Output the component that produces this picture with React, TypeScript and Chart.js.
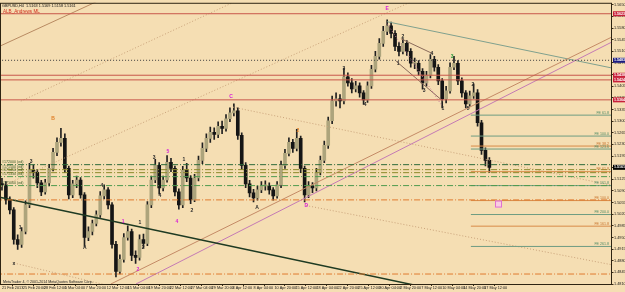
import React, { useEffect, useRef } from "react";
import { Chart, registerables } from "chart.js";

Chart.register(...registerables);

// ---------- header texts ----------
const symbolTitle = "GBPUSD,H4";
const titleValues = ["1.5163", "1.5169", "1.5158", "1.5161"];
const indicatorName = "ALB_Andrews ML";
const copyright = "MetaTrader 4, © 2001-2014 MetaQuotes Software Corp.";

// ---------- candles (each candle = 3 H4 bars) ----------
const opens = [1.5112,1.5108,1.5063,1.5033,1.4944,1.4929,1.4968,1.5048,1.5152,1.5146,
1.5114,1.5087,1.5114,1.5158,1.5206,1.5236,1.5248,1.5158,1.5078,1.5111,
1.5123,1.5078,1.4950,1.4968,1.4992,1.5018,1.5075,1.5093,1.5048,1.4929,
1.4848,1.4884,1.4950,1.4968,1.4896,1.4890,1.4944,1.4932,1.5048,1.5123,
1.5167,1.5099,1.5123,1.5176,1.5158,1.5087,1.5048,1.5152,1.5129,1.5063,
1.5129,1.5182,1.5218,1.5248,1.5266,1.5260,1.5284,1.5278,1.5307,1.5325,
1.5331,1.5257,1.5167,1.5111,1.5084,1.5069,1.5093,1.5105,1.5105,1.5093,
1.5075,1.5108,1.5167,1.5203,1.5236,1.5218,1.5248,1.5158,1.5078,1.5105,
1.5099,1.5146,1.5182,1.5227,1.5301,1.5361,1.5367,1.5361,1.5433,1.5415,
1.5397,1.5406,1.5385,1.5364,1.5406,1.5456,1.5495,1.5534,1.5570,1.5587,
1.5564,1.5525,1.5510,1.5534,1.5510,1.5474,1.5474,1.5450,1.5415,1.5438,
1.5486,1.5462,1.5421,1.5367,1.5391,1.5462,1.5474,1.5421,1.5385,1.5352,
1.5376,1.5385,1.5295,1.5212,1.5182];

const highs = [1.5128,1.5118,1.5072,1.5040,1.4958,1.4980,1.5060,1.5173,1.5168,1.5155,
1.5122,1.5125,1.5170,1.5218,1.5250,1.5278,1.5262,1.5165,1.5122,1.5135,
1.5130,1.5085,1.4982,1.5002,1.5030,1.5088,1.5108,1.5100,1.5055,1.4938,
1.4898,1.4962,1.4985,1.4975,1.4910,1.4958,1.4960,1.5058,1.5135,1.5185,
1.5175,1.5135,1.5196,1.5188,1.5165,1.5096,1.5164,1.5173,1.5136,1.5140,
1.5195,1.5235,1.5262,1.5282,1.5280,1.5298,1.5300,1.5320,1.5340,1.5352,
1.5340,1.5265,1.5175,1.5122,1.5095,1.5105,1.5118,1.5120,1.5114,1.5100,
1.5118,1.5180,1.5215,1.5250,1.5245,1.5275,1.5255,1.5165,1.5118,1.5115,
1.5158,1.5195,1.5240,1.5312,1.5375,1.5385,1.5380,1.5459,1.5445,1.5428,
1.5420,1.5415,1.5392,1.5418,1.5468,1.5510,1.5548,1.5585,1.5605,1.5598,
1.5572,1.5536,1.5548,1.5542,1.5518,1.5490,1.5482,1.5458,1.5450,1.5500,
1.5495,1.5470,1.5428,1.5405,1.5475,1.5495,1.5482,1.5430,1.5392,1.5390,
1.5412,1.5395,1.5302,1.5220,1.5190];

const lows = [1.5092,1.5050,1.5021,1.4930,1.4914,1.4920,1.4961,1.5040,1.5128,1.5100,
1.5076,1.5080,1.5105,1.5150,1.5196,1.5225,1.5145,1.5066,1.5070,1.5100,
1.5068,1.4923,1.4940,1.4958,1.4985,1.5010,1.5066,1.5036,1.4918,1.4831,
1.4840,1.4876,1.4942,1.4880,1.4872,1.4882,1.4918,1.4925,1.5040,1.5115,
1.5080,1.5090,1.5116,1.5148,1.5075,1.5035,1.5040,1.5118,1.5052,1.5058,
1.5120,1.5172,1.5208,1.5236,1.5245,1.5250,1.5262,1.5270,1.5298,1.5316,
1.5245,1.5155,1.5100,1.5072,1.5057,1.5062,1.5085,1.5092,1.5080,1.5062,
1.5068,1.5100,1.5158,1.5195,1.5206,1.5210,1.5145,1.5057,1.5070,1.5085,
1.5090,1.5138,1.5175,1.5218,1.5292,1.5345,1.5340,1.5352,1.5405,1.5385,
1.5388,1.5372,1.5350,1.5356,1.5398,1.5448,1.5486,1.5525,1.5560,1.5550,
1.5512,1.5496,1.5502,1.5498,1.5462,1.5458,1.5438,1.5396,1.5405,1.5430,
1.5450,1.5410,1.5340,1.5355,1.5384,1.5455,1.5410,1.5372,1.5340,1.5345,
1.5368,1.5285,1.5200,1.5165,1.5146];

const closes = [1.5108,1.5063,1.5033,1.4944,1.4929,1.4968,1.5048,1.5152,1.5146,1.5114,
1.5087,1.5114,1.5158,1.5206,1.5236,1.5248,1.5158,1.5078,1.5111,1.5123,
1.5078,1.4950,1.4968,1.4992,1.5018,1.5075,1.5093,1.5048,1.4929,1.4848,
1.4884,1.4950,1.4968,1.4896,1.4890,1.4944,1.4932,1.5048,1.5123,1.5167,
1.5099,1.5123,1.5176,1.5158,1.5087,1.5048,1.5152,1.5129,1.5063,1.5129,
1.5182,1.5218,1.5248,1.5266,1.5260,1.5284,1.5278,1.5307,1.5325,1.5331,
1.5257,1.5167,1.5111,1.5084,1.5069,1.5093,1.5105,1.5105,1.5093,1.5075,
1.5108,1.5167,1.5203,1.5236,1.5218,1.5248,1.5158,1.5078,1.5105,1.5099,
1.5146,1.5182,1.5227,1.5301,1.5361,1.5367,1.5361,1.5433,1.5415,1.5397,
1.5406,1.5385,1.5364,1.5406,1.5456,1.5495,1.5534,1.5570,1.5587,1.5564,
1.5525,1.5510,1.5534,1.5510,1.5474,1.5474,1.5450,1.5415,1.5438,1.5486,
1.5462,1.5421,1.5367,1.5391,1.5462,1.5474,1.5421,1.5385,1.5352,1.5376,
1.5385,1.5295,1.5212,1.5182,1.5161];

// ---------- axes ----------
const timeLabels = ["21 Feb 2013","25 Feb 20:00","28 Feb 12:00","5 Mar 04:00","7 Mar 20:00","12 Mar 12:00",
"15 Mar 04:00","19 Mar 20:00","22 Mar 12:00","27 Mar 04:00","29 Mar 20:00","3 Apr 12:00",
"8 Apr 04:00","10 Apr 20:00","15 Apr 12:00","18 Apr 04:00","22 Apr 20:00","25 Apr 12:00",
"30 Apr 04:00","2 May 20:00","7 May 12:00","10 May 04:00","14 May 20:00","17 May 12:00"];
const candlesPerLabel = 16 / 3; // 16 H4 bars between time labels
const priceTicks = [1.5650,1.5615,1.5580,1.5545,1.5510,1.5475,1.5440,1.5405,1.5370,1.5335,
1.5300,1.5265,1.5230,1.5195,1.5160,1.5125,1.5090,1.5055,1.5020,1.4985,1.4950,1.4915,
1.4880,1.4845,1.4810];
const priceMin = 1.4810;
const priceMax = 1.5656;
const timeMin = -0.5;
const timeMax = 155.2;

// ---------- horizontal levels ----------
const redLevels = [1.5623, 1.5438, 1.5424, 1.5364];
const dottedLevel = 1.5483;
const dashDotLevels = [1.5169, 1.5154, 1.5145, 1.5133, 1.5106];
const dashDotNames = ["#172000 (ed)", "#171500 (ed)", "#171450 (ed)", "#171330 (ed)", "#171060 (ed)"];
const orangeLevels = [1.5063, 1.4840];
const feGreenLevels = [1.5318, 1.5255, 1.5216, 1.5106, 1.5019, 1.4923];
const feGreenNames = ["FE 61.8", "FE 100.0", "FE 123.6", "FE 161.8", "FE 200.0", "FE 261.8"];
const feOrangeLevels = [1.5225, 1.5148, 1.5061, 1.4984];
const feOrangeNames = ["FE 38.2", "FE 61.8", "FE 100.0", "FE 161.8"];
const feStart = 119.3;

// ---------- trend lines [time, price, time, price] ----------
const trendBrown = [-0.25, 1.5527, 24.0, 1.5659];
const trendDotted1 = [4.8, 1.5360, 58.8, 1.5657];
const trendDotted2 = [-0.25, 1.5103, 104.1, 1.5659];
const trendDarkGreen = [-0.25, 1.5070, 104.8, 1.4807];
const channelTan = [27.7, 1.4810, 155.5, 1.5555];
const channelPink = [34.1, 1.4810, 155.5, 1.5540];
const fromC = [58.8, 1.5342, 155.5, 1.5106];
const fromD = [77.4, 1.5046, 155.5, 1.4867];
const fromX = [3.05, 1.4873, 26.5, 1.4807];
const fromE = [98.0, 1.5599, 155.5, 1.5459];
const waveA = [98.0, 1.5593, 112.0, 1.5345];
const waveB = [101.5, 1.5548, 109.4, 1.5504];
const waveC = [100.3, 1.5480, 112.2, 1.5360];

// ---------- wave labels [time, price, text, kind] ----------
const waveLabels: [number, number, string, string][] = [
  [13.0, 1.5306, "B", "o"], [98.0, 1.5638, "E", "m"], [58.3, 1.5375, "C", "m"], [77.4, 1.5046, "D", "m"],
  [3.05, 1.4870, "x", "k"], [7.4, 1.5178, "3", "k"], [4.6, 1.4980, "1", "k"], [21.1, 1.4920, "A", "k"],
  [25.4, 1.5106, "4", "k"], [30.8, 1.4998, "1", "m"], [34.6, 1.4852, "2", "m"], [35.1, 1.4995, "1", "k"],
  [35.9, 1.4920, "2", "k"], [38.7, 1.5190, "3", "k"], [40.2, 1.5076, "4", "k"], [42.2, 1.5208, "5", "m"],
  [44.5, 1.4998, "4", "m"], [46.3, 1.5184, "1", "k"], [48.3, 1.5031, "2", "k"], [64.9, 1.5040, "A", "k"],
  [75.3, 1.5270, "2", "o"], [87.0, 1.5459, "3", "k"], [92.4, 1.5351, "4", "k"], [102.0, 1.5554, "2", "k"],
  [100.8, 1.5473, "1", "k"], [107.4, 1.5393, "3", "k"], [109.4, 1.5503, "4", "k"], [112.2, 1.5339, "1", "k"],
  [114.5, 1.5495, "3", "g"], [118.6, 1.5339, "5", "k"], [119.8, 1.5411, "2", "k"],
];
const boxPoint = [126.2, 1.5052];

const labelColors: Record<string, string> = { o: "#E0802A", m: "#D81FD8", k: "#2A2A2A", g: "#2E9A3E" };

export default function App() {
  const ref = useRef<HTMLCanvasElement>(null);

  useEffect(() => {
    document.body.style.margin = "0";
    const canvas = ref.current;
    if (!canvas) return;

    const bull = "#ADA47C";
    const bear = "#151515";
    const wick = "#202020";

    const seg = (a: number[], color: string, width: number, dash: number[] = []) => ({
      type: "line",
      data: [{ x: a[0], y: a[1] }, { x: a[2], y: a[3] }],
      borderColor: color,
      borderWidth: width,
      borderDash: dash,
      pointRadius: 0,
      pointHoverRadius: 0,
      fill: false,
      tension: 0,
      order: 1,
    });
    const hline = (p: number, color: string, width: number, dash: number[] = [], from = timeMin - 1) =>
      seg([from, p, timeMax + 1, p], color, width, dash);

    const datasets: any[] = [
      {
        type: "bar",
        data: lows.map((l, i) => ({ x: i, y: [l, highs[i]] })),
        backgroundColor: wick,
        barThickness: 1,
        grouped: false,
        order: 20,
      },
      {
        type: "bar",
        data: opens.map((o, i) => ({ x: i, y: [o, closes[i]] })),
        backgroundColor: opens.map((o, i) => (closes[i] >= o ? bull : bear)),
        borderWidth: 0,
        barThickness: 3,
        minBarLength: 1,
        grouped: false,
        order: 10,
      },
    ];

    redLevels.forEach((p) => datasets.push(hline(p, "#C8574B", 1)));
    datasets.push(hline(dottedLevel, "#3C3C3C", 1, [1, 2]));
    const ddColors = ["#2D6A3A", "#8C8A2C", "#8C8A2C", "#4E9A4E", "#4E9A4E"];
    dashDotLevels.forEach((p, i) => datasets.push(hline(p, ddColors[i], 1, [6, 2, 1, 2])));
    orangeLevels.forEach((p) => datasets.push(hline(p, "#E07A30", 1, [6, 2, 1, 2])));
    feGreenLevels.forEach((p) => datasets.push(hline(p, "#6E9C82", 1, [], feStart)));
    feOrangeLevels.forEach((p) => datasets.push(hline(p, "#D88A48", 1, [], feStart)));

    datasets.push(seg(trendBrown, "#B88A62", 1));
    datasets.push(seg(trendDotted1, "#C9A27A", 1, [1, 2]));
    datasets.push(seg(trendDotted2, "#C9A27A", 1, [1, 2]));
    datasets.push(seg(trendDarkGreen, "#1E3A22", 1.5));
    datasets.push(seg(channelTan, "#C48A66", 1));
    datasets.push(seg(channelPink, "#C47AB4", 1));
    datasets.push(seg(fromC, "#C9A27A", 1, [1, 2]));
    datasets.push(seg(fromD, "#C9A27A", 1, [1, 2]));
    datasets.push(seg(fromX, "#C9A27A", 1, [1, 2]));
    datasets.push(seg(fromE, "#7FA08E", 1));
    datasets.push(seg(waveA, "#C77A9A", 1, [1, 2]));
    datasets.push(seg(waveB, "#8A6A5A", 1));
    datasets.push(seg(waveC, "#8A6A5A", 1));

    const overlay = {
      id: "overlay",
      beforeDraw(chart: any) {
        const ctx = chart.ctx;
        ctx.save();
        ctx.fillStyle = "#F5DEB3";
        ctx.fillRect(0, 0, chart.width, chart.height);
        ctx.restore();
      },
      afterDatasetsDraw(chart: any) {
        const ctx = chart.ctx;
        const a = chart.chartArea;
        const xs = chart.scales.x;
        const ys = chart.scales.y;
        ctx.save();
        ctx.beginPath();
        ctx.rect(a.left, a.top, a.right - a.left, a.bottom - a.top);
        ctx.clip();

        // wave labels
        ctx.font = "bold 5px 'Liberation Sans'";
        ctx.textAlign = "center";
        ctx.textBaseline = "middle";
        waveLabels.forEach(([t, p, s, k]) => {
          ctx.fillStyle = labelColors[k];
          ctx.fillText(s, xs.getPixelForValue(t), ys.getPixelForValue(p));
        });

        // FE labels at right end
        ctx.font = "3.6px 'Liberation Sans'";
        ctx.textAlign = "right";
        ctx.textBaseline = "bottom";
        feGreenLevels.forEach((p, i) => {
          ctx.fillStyle = "#4E8A66";
          ctx.fillText(feGreenNames[i], a.right - 3, ys.getPixelForValue(p) - 0.5);
        });
        feOrangeLevels.forEach((p, i) => {
          ctx.fillStyle = "#C8742E";
          ctx.fillText(feOrangeNames[i], a.right - 3, ys.getPixelForValue(p) - 0.5);
        });

        // dash-dot level names at the left
        ctx.textAlign = "left";
        dashDotLevels.forEach((p, i) => {
          ctx.fillStyle = "#3A5A2A";
          ctx.fillText(dashDotNames[i], a.left + 2, ys.getPixelForValue(p) - 0.5);
        });

        // pink box
        const bx = xs.getPixelForValue(boxPoint[0]);
        const by = ys.getPixelForValue(boxPoint[1]);
        ctx.fillStyle = "rgba(250,200,235,0.8)";
        ctx.fillRect(bx - 3, by - 3, 7, 7);
        ctx.strokeStyle = "#E070D0";
        ctx.lineWidth = 1;
        ctx.strokeRect(bx - 3 + 0.5, by - 3 + 0.5, 6, 6);

        // header texts
        ctx.textBaseline = "middle";
        ctx.font = "3.8px 'Liberation Sans'";
        ctx.fillStyle = "#111";
        ctx.fillText(symbolTitle + "  " + titleValues.join(" "), a.left + 2, a.top + 3);
        ctx.font = "4.6px 'Liberation Sans'";
        ctx.fillStyle = "#D03020";
        ctx.fillText(indicatorName, a.left + 3, a.top + 9);
        ctx.font = "3.6px 'Liberation Sans'";
        ctx.fillStyle = "#222";
        ctx.fillText(copyright, a.left + 3, a.bottom - 2);
        ctx.restore();
      },
      afterDraw(chart: any) {
        const ctx = chart.ctx;
        const a = chart.chartArea;
        const ys = chart.scales.y;
        ctx.save();
        ctx.strokeStyle = "#2E2412";
        ctx.lineWidth = 1;
        ctx.strokeRect(a.left + 0.5, a.top + 0.5, a.right - a.left - 1, a.bottom - a.top);
        const boxes: [number, string][] = [
          [redLevels[0], "#C8203A"], [dottedLevel, "#1A1A80"], [redLevels[1], "#C8203A"],
          [redLevels[2], "#C8203A"], [redLevels[3], "#C8203A"], [closes[closes.length - 1], "#000000"],
        ];
        ctx.font = "bold 3.6px 'Liberation Sans'";
        ctx.textAlign = "left";
        ctx.textBaseline = "middle";
        boxes.forEach(([p, c]) => {
          const y = ys.getPixelForValue(p);
          ctx.fillStyle = c;
          ctx.fillRect(a.right + 1, y - 2.5, 12, 5);
          ctx.fillStyle = "#FFFFFF";
          ctx.fillText(p.toFixed(4), a.right + 2, y);
        });
        ctx.restore();
      },
    };

    const chart = new Chart(canvas, {
      type: "bar",
      data: { datasets },
      options: {
        responsive: false,
        animation: false,
        devicePixelRatio: 1,
        events: [],
        layout: { padding: { top: 1, left: 0, right: 0, bottom: 0 } },
        plugins: { legend: { display: false }, tooltip: { enabled: false } },
        scales: {
          x: {
            type: "linear",
            min: timeMin,
            max: timeMax,
            offset: false,
            grid: { display: true, drawOnChartArea: false, drawTicks: true, tickLength: 2, color: "#3A2C14" },
            border: { display: false },
            ticks: {
              align: "start",
              maxRotation: 0,
              minRotation: 0,
              autoSkip: false,
              padding: 0,
              color: "#1A1A1A",
              font: { size: 3.8, family: "'Liberation Sans'" },
              callback: (_v: any, i: number) => timeLabels[i] ?? "",
            },
            afterBuildTicks: (s: any) => {
              s.ticks = timeLabels.map((_l, k) => ({ value: k * candlesPerLabel }));
            },
            afterFit: (s: any) => {
              s.height = 8;
            },
          },
          y: {
            type: "linear",
            position: "right",
            min: priceMin,
            max: priceMax,
            beginAtZero: false,
            grid: { display: true, drawOnChartArea: false, drawTicks: true, tickLength: 1.5, color: "#3A2C14" },
            border: { display: false },
            ticks: {
              padding: 0.5,
              color: "#1A1A1A",
              font: { size: 3.8, family: "'Liberation Sans'" },
              callback: (v: any) => Number(v).toFixed(4),
            },
            afterBuildTicks: (s: any) => {
              s.ticks = priceTicks.map((v) => ({ value: v }));
            },
            afterFit: (s: any) => {
              s.width = 13;
            },
          },
        },
      } as any,
      plugins: [overlay],
    } as any);

    return () => chart.destroy();
  }, []);

  return (
    <div style={{ width: 625, height: 292, overflow: "hidden" }}>
      <canvas ref={ref} width={625} height={292} style={{ display: "block" }} />
    </div>
  );
}
